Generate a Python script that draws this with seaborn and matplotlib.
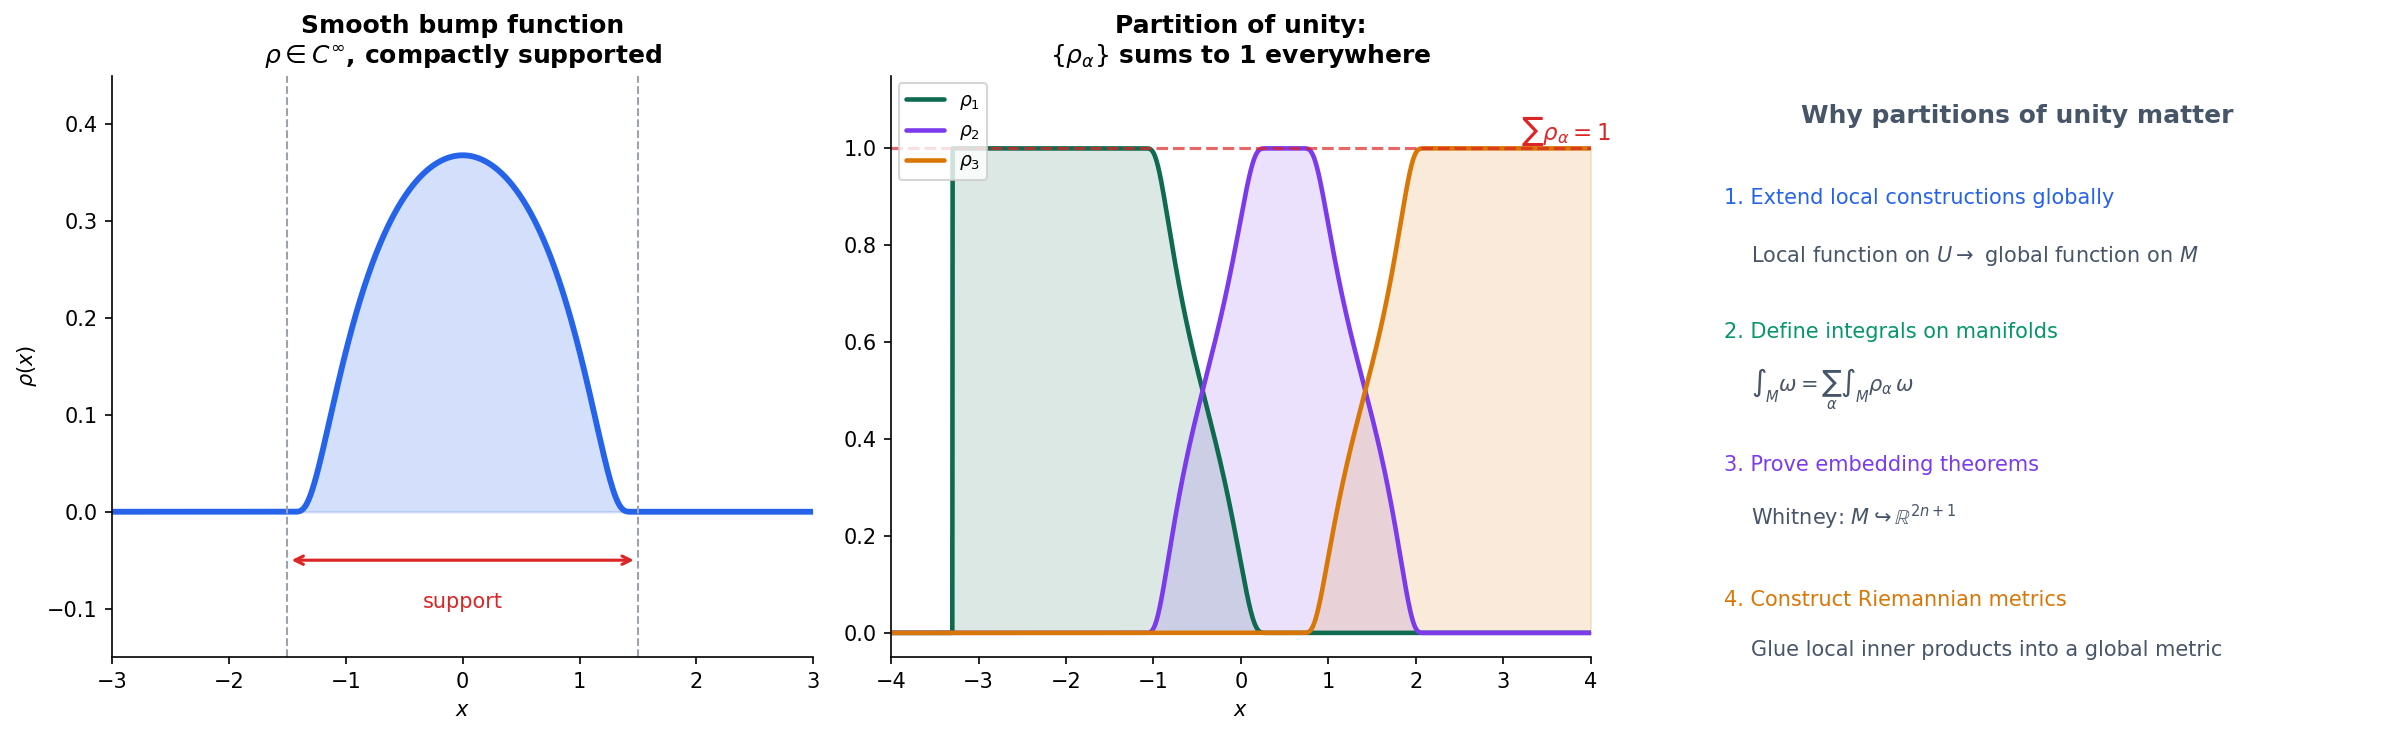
import numpy as np
import pandas as pd
import seaborn as sns
import matplotlib.pyplot as plt

# bump function parameters
bump_center = 0.0
bump_radius = 1.5

# partition of unity: supports of the three bumps
part_labels = [r"$\rho_1$", r"$\rho_2$", r"$\rho_3$"]
part_centers = [-1.475, 0.5, 2.4]
part_radii = [1.825, 1.65, 1.75]
part_colors = ["#0f6b50", "#7c3aed", "#d97706"]

# right panel text
items = ["1. Extend local constructions globally",
         "2. Define integrals on manifolds",
         "3. Prove embedding theorems",
         "4. Construct Riemannian metrics"]
details = [r"Local function on $U \to$ global function on $M$",
           r"$\int_M \omega = \sum_\alpha \int_M \rho_\alpha\, \omega$",
           r"Whitney: $M \hookrightarrow \mathbb{R}^{2n+1}$",
           "Glue local inner products into a global metric"]
item_colors = ["#2563eb", "#059669", "#7c3aed", "#d97706"]


def bump(x, c, r):
    t = (x - c) / r
    out = np.zeros_like(x)
    inside = np.abs(t) < 1
    out[inside] = np.exp(-1.0 / (1.0 - t[inside] ** 2))
    return out


sns.set_style("ticks", {"axes.edgecolor": "black", "text.color": "black",
                        "axes.labelcolor": "black", "xtick.color": "black",
                        "ytick.color": "black"})
fig = plt.figure(figsize=(15.9, 4.9), dpi=150)
ax1 = fig.add_axes([0.047, 0.106, 0.294, 0.791])
ax2 = fig.add_axes([0.3736, 0.106, 0.2934, 0.791])
ax3 = fig.add_axes([0.7128, 0.106, 0.28, 0.791])

# --- left: bump function
x1 = np.linspace(-3, 3, 1200)
y1 = bump(x1, bump_center, bump_radius)
df1 = pd.DataFrame({"x": x1, "rho": y1})
sns.lineplot(data=df1, x="x", y="rho", ax=ax1, color="#2563eb", lw=2.8)
ax1.fill_between(x1, 0, y1, color="#2563eb", alpha=0.2)
for s in (-bump_radius, bump_radius):
    ax1.axvline(s, color="#9ca3af", ls="--", lw=1)
ax1.annotate("", xy=(bump_center - bump_radius, -0.05), xytext=(bump_center + bump_radius, -0.05),
             arrowprops=dict(arrowstyle="<->", color="#dc2626", lw=1.5))
ax1.text(bump_center, -0.093, "support", color="#dc2626", ha="center", va="center", fontsize=10)
ax1.set_xlim(-3, 3)
ax1.set_ylim(-0.15, 0.45)
ax1.set_xlabel("$x$")
ax1.set_ylabel(r"$\rho(x)$")
ax1.set_title("Smooth bump function\n" + r"$\rho\in C^\infty$, compactly supported",
              fontsize=12, fontweight="bold")
sns.despine(ax=ax1)

# --- middle: partition of unity
x2 = np.linspace(-4, 4, 2000)
psis = np.array([bump(x2, c, r) for c, r in zip(part_centers, part_radii)])
total = psis.sum(axis=0)
rhos = np.where(total > 0, psis / np.where(total > 0, total, 1), 0)

for rho, lab, col in zip(rhos, part_labels, part_colors):
    d = pd.DataFrame({"x": x2, "rho": rho})
    sns.lineplot(data=d, x="x", y="rho", ax=ax2, color=col, lw=2.2, label=lab)
    ax2.fill_between(x2, 0, rho, color=col, alpha=0.15)
ax2.axhline(1.0, color="#dc2626", ls="--", lw=1.5, alpha=0.7)
ax2.text(3.72, 1.0, r"$\sum\rho_\alpha = 1$", color="#dc2626", ha="center", va="bottom", fontsize=11)
ax2.set_xlim(-4, 4)
ax2.set_ylim(-0.05, 1.15)
ax2.set_xlabel("$x$")
ax2.set_ylabel("")
ax2.set_title("Partition of unity:\n" + r"$\{\rho_\alpha\}$ sums to 1 everywhere",
              fontsize=12, fontweight="bold")
ax2.legend(loc="upper left", fontsize=9, borderaxespad=0.4)
sns.despine(ax=ax2)

# --- right: text panel
ax3.axis("off")
ax3.set_xlim(0, 1)
ax3.set_ylim(0, 1)
ax3.text(0.475, 0.93, "Why partitions of unity matter", ha="center", va="center",
         fontsize=12, fontweight="bold", color="#475569")
item_y = [0.79, 0.56, 0.33, 0.098]
detail_y = [0.69, 0.46, 0.24, 0.012]
for t, d, c, yi, yd in zip(items, details, item_colors, item_y, detail_y):
    ax3.text(0.036, yi, t, color=c, fontsize=10, ha="left", va="center")
    ax3.text(0.076, yd, d, color="#475569", fontsize=10, ha="left", va="center")

fig.savefig("out.png", dpi=150)
